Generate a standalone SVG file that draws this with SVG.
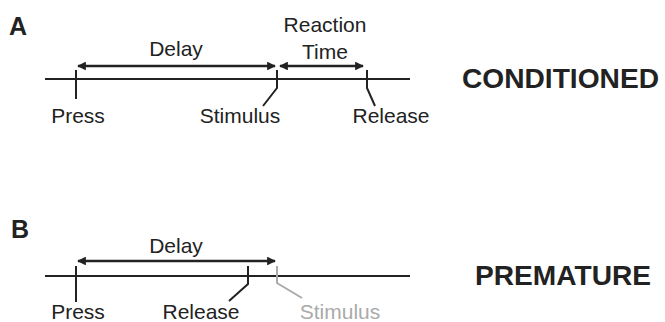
<svg xmlns="http://www.w3.org/2000/svg" width="665" height="322" viewBox="0 0 665 322">
<style>
.t{font-family:"Liberation Sans",Arial,sans-serif;font-size:21px;fill:#222;text-anchor:middle}
.g{fill:#aaa}
.h{font-family:"Liberation Sans",Arial,sans-serif;font-weight:bold;fill:#222}
.ln{stroke:#222;stroke-width:2;fill:none}
.gl{stroke:#aaa;stroke-width:2;fill:none}
.ar{stroke:#222;stroke-width:2.5;fill:none;marker-start:url(#ah);marker-end:url(#ah)}
</style>
<defs>
<marker id="ah" viewBox="0 0 10 10" refX="9" refY="5" markerWidth="3.5" markerHeight="3.5" orient="auto-start-reverse" markerUnits="strokeWidth">
<path d="M0,0 L10,5 L0,10 z" fill="#222"/>
</marker>
</defs>
<g id="panelA">
<text class="h" x="9" y="35" font-size="25">A</text>
<text class="h" x="462" y="88" font-size="28" textLength="197" lengthAdjust="spacingAndGlyphs">CONDITIONED</text>
<g id="connectorsA">
<line class="ln" x1="45" y1="79" x2="410" y2="79"/>
<line class="ar" x1="78" y1="66" x2="275" y2="66"/>
<line class="ar" x1="280" y1="66" x2="363" y2="66"/>
</g>
<g id="pressA">
<line class="ln" x1="76" y1="70" x2="76" y2="99"/>
<text class="t" x="78" y="123">Press</text>
</g>
<g id="stimulusA">
<polyline class="ln" points="277,70 277,88 263,106"/>
<text class="t" x="240" y="123">Stimulus</text>
</g>
<g id="releaseA">
<polyline class="ln" points="367,70 367,88 375,106"/>
<text class="t" x="391" y="123">Release</text>
</g>
<text class="t" x="176" y="56">Delay</text>
<text class="t" x="325" y="32">Reaction</text>
<text class="t" x="325" y="59">Time</text>
</g>
<g id="panelB">
<text class="h" x="11" y="238" font-size="25">B</text>
<text class="h" x="475" y="285" font-size="28" textLength="176" lengthAdjust="spacingAndGlyphs">PREMATURE</text>
<g id="connectorsB">
<line class="ln" x1="45" y1="276" x2="410" y2="276"/>
<line class="ar" x1="78" y1="261" x2="275" y2="261"/>
</g>
<g id="pressB">
<line class="ln" x1="76" y1="266" x2="76" y2="302"/>
<text class="t" x="78" y="319">Press</text>
</g>
<g id="releaseB">
<polyline class="ln" points="248,266 248,284 229,301"/>
<text class="t" x="201" y="319">Release</text>
</g>
<g id="stimulusB">
<polyline class="gl" points="277,266 277,283 302,298"/>
<text class="t g" x="340" y="319">Stimulus</text>
</g>
<text class="t" x="176" y="253">Delay</text>
</g>
</svg>
